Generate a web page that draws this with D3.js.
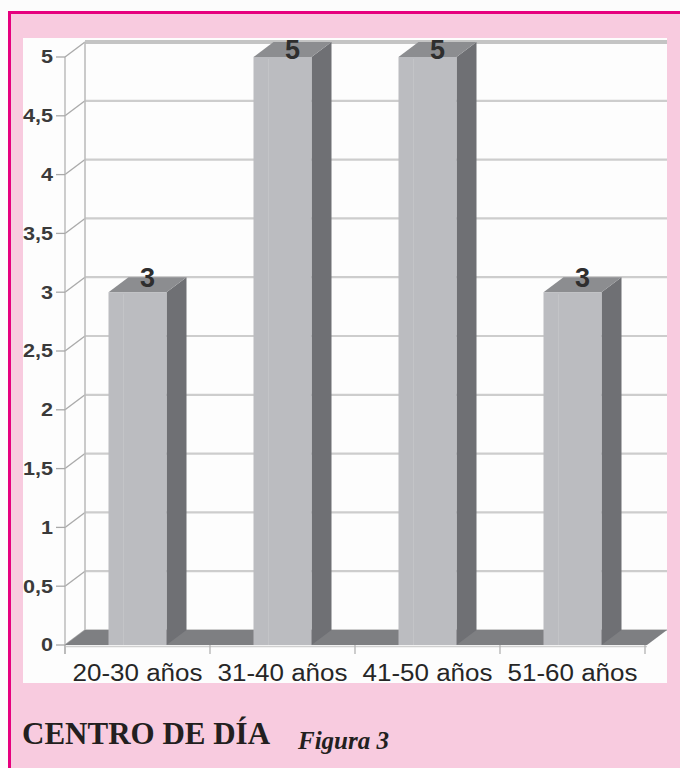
<!DOCTYPE html>
<html>
<head>
<meta charset="utf-8">
<script src="https://cdn.jsdelivr.net/npm/d3@7"></script>
<style>
html,body{margin:0;padding:0;background:#fff;}
svg{display:block;}
</style>
</head>
<body>
<svg id="chart" width="680" height="768"></svg>
<script>
// ---- data ----
const categories = ["20-30 años", "31-40 años", "41-50 años", "51-60 años"];
const values = [3, 5, 5, 3];
const yTicks = [0, 0.5, 1, 1.5, 2, 2.5, 3, 3.5, 4, 4.5, 5];
const yTickLabels = ["0", "0,5", "1", "1,5", "2", "2,5", "3", "3,5", "4", "4,5", "5"];
const title = "CENTRO DE DÍA";
const figLabel = "Figura 3";

// ---- layout ----
const svg = d3.select("#chart");
const W = 680, H = 768;
const plotL = 65, plotR = 645, plotTop = 57, plotBot = 645;
const DX = 20, DY = 15;
const wallRight = 667;

const x = d3.scaleBand().domain(categories).range([plotL, plotR]).paddingInner(0.6).paddingOuter(0.3);
const y = d3.scaleLinear().domain([0, 5]).range([plotBot, plotTop]);

// outer page / frame
svg.append("rect").attr("x", 0).attr("y", 0).attr("width", W).attr("height", H).attr("fill", "#fcfcfc");
svg.append("rect").attr("x", 8).attr("y", 11).attr("width", W - 8).attr("height", H - 11).attr("fill", "#f8cbdf");
svg.append("line").attr("x1", 8).attr("x2", W).attr("y1", 12.5).attr("y2", 12.5).attr("stroke", "#e6007e").attr("stroke-width", 3);
svg.append("line").attr("x1", 9.5).attr("x2", 9.5).attr("y1", 11).attr("y2", H).attr("stroke", "#e6007e").attr("stroke-width", 3);

// white chart area
svg.append("rect").attr("x", 23).attr("y", 38).attr("width", wallRight - 23).attr("height", 683 - 38).attr("fill", "#fdfdfd");

const grid = svg.append("g");
// back wall gridlines + side wall diagonals
yTicks.forEach(t => {
  const yy = y(t);
  grid.append("line").attr("x1", plotL + DX).attr("x2", wallRight).attr("y1", yy - DY).attr("y2", yy - DY)
    .attr("stroke", t === 5 ? "#c4c4c4" : "#cdcdcd").attr("stroke-width", t === 5 ? 4 : 2.2);
  grid.append("line").attr("x1", plotL).attr("x2", plotL + DX).attr("y1", yy).attr("y2", yy - DY)
    .attr("stroke", "#a9a9a9").attr("stroke-width", 1.3);
});
// wall verticals
grid.append("line").attr("x1", plotL + DX).attr("x2", plotL + DX).attr("y1", y(5) - DY).attr("y2", plotBot - DY)
  .attr("stroke", "#bdbdbd").attr("stroke-width", 1.6);
grid.append("line").attr("x1", plotL).attr("x2", plotL).attr("y1", y(5)).attr("y2", plotBot + 9)
  .attr("stroke", "#b3b3b3").attr("stroke-width", 1.3);

// floor
svg.append("path")
  .attr("d", d3.line()([[plotL, plotBot], [plotL + DX, plotBot - DY], [wallRight, plotBot - DY], [plotR + 2, plotBot]]) + "Z")
  .attr("fill", "#7e7f82");

// x axis line & ticks
svg.append("line").attr("x1", plotL).attr("x2", plotR + 2).attr("y1", plotBot + 1.5).attr("y2", plotBot + 1.5)
  .attr("stroke", "#d0d0d0").attr("stroke-width", 1.5);
const step = x.step();
d3.range(categories.length + 1).forEach(i => {
  const xx = plotL + i * step;
  svg.append("line").attr("x1", xx).attr("x2", xx).attr("y1", plotBot).attr("y2", plotBot + 9)
    .attr("stroke", "#b3b3b3").attr("stroke-width", 1.3);
});

// y ticks
const ytick = svg.append("g");
yTicks.forEach((t, i) => {
  const yy = y(t);
  ytick.append("line").attr("x1", 56).attr("x2", plotL).attr("y1", yy).attr("y2", yy)
    .attr("stroke", "#a9a9a9").attr("stroke-width", 1.3);
  ytick.append("text")
    .attr("transform", `translate(53,${yy + 6.3}) scale(1.2,1)`)
    .attr("text-anchor", "end")
    .attr("font-family", "'Liberation Sans', Arial, sans-serif")
    .attr("font-weight", "bold").attr("font-size", 18)
    .attr("fill", "#3a3a3a")
    .text(yTickLabels[i]);
});

// bars
const bars = svg.append("g");
categories.forEach((c, i) => {
  const v = values[i];
  const x0 = x(c), x1 = x(c) + x.bandwidth();
  const yv = y(v), y0 = y(0);
  // side face
  bars.append("path")
    .attr("d", d3.line()([[x1, yv], [x1 + DX, yv - DY], [x1 + DX, y0 - DY], [x1, y0]]) + "Z")
    .attr("fill", "#6f7074");
  // top face
  bars.append("path")
    .attr("d", d3.line()([[x0, yv], [x0 + DX, yv - DY], [x1 + DX, yv - DY], [x1, yv]]) + "Z")
    .attr("fill", "#8c8d90");
  // front face
  bars.append("rect").attr("x", x0).attr("y", yv).attr("width", x.bandwidth()).attr("height", y0 - yv)
    .attr("fill", "#bbbcc0");
  bars.append("line").attr("x1", x0 + 15).attr("x2", x0 + 15).attr("y1", yv + 2).attr("y2", y0)
    .attr("stroke", "#c3c4c7").attr("stroke-width", 1);
  // value label
  bars.append("text")
    .attr("x", (x0 + x1) / 2 + DX / 2)
    .attr("y", Math.max(yv - 5, 59))
    .attr("text-anchor", "middle")
    .attr("font-family", "'Liberation Sans', Arial, sans-serif")
    .attr("font-weight", "bold").attr("font-size", 27)
    .attr("fill", "#2e2e2e")
    .text(v);
});

// category labels
categories.forEach(c => {
  svg.append("text")
    .attr("transform", `translate(${x(c) + x.bandwidth() / 2},681) scale(1.13,1)`)
    .attr("text-anchor", "middle")
    .attr("font-family", "'Liberation Sans', Arial, sans-serif")
    .attr("font-size", 23)
    .attr("fill", "#262626")
    .text(c);
});

// title texts
svg.append("text").attr("x", 22).attr("y", 744)
  .attr("font-family", "'Liberation Serif', 'Times New Roman', serif")
  .attr("font-weight", "bold").attr("font-size", 31).attr("fill", "#231f20")
  .text(title);
svg.append("text").attr("x", 298).attr("y", 749)
  .attr("font-family", "'Liberation Serif', 'Times New Roman', serif")
  .attr("font-weight", "bold").attr("font-style", "italic").attr("font-size", 25).attr("fill", "#231f20")
  .text(figLabel);
</script>
</body>
</html>
